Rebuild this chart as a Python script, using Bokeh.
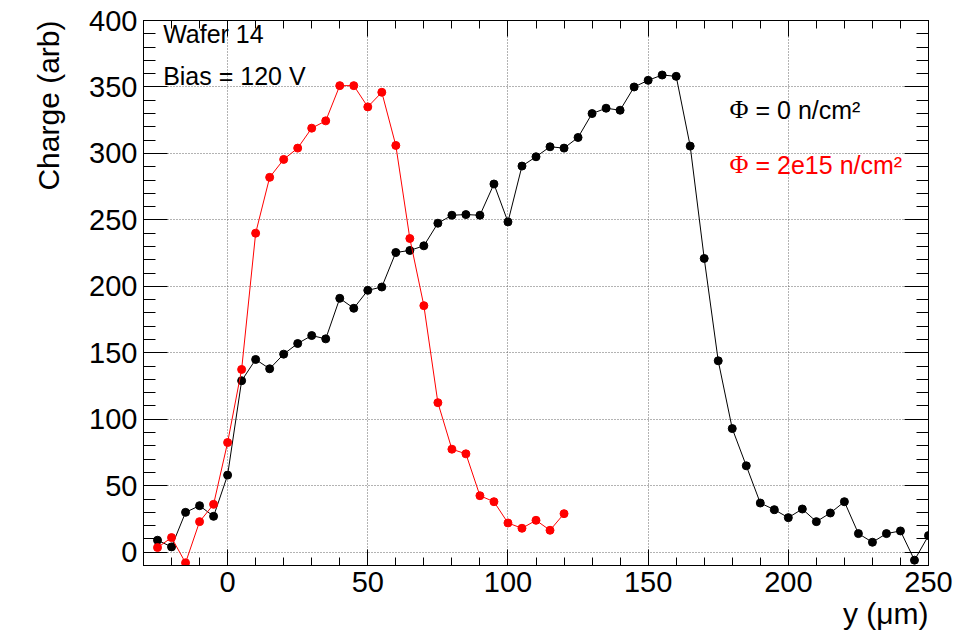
import math
from bokeh.plotting import figure
from bokeh.models import Range1d, FixedTicker, LinearAxis, Label, Title
from bokeh.embed import file_html
from bokeh.resources import INLINE

# ---- data ----
y_black = list(range(-25, 255, 5))
charge_black = [9, 4, 30, 35, 27, 58, 129, 145, 138, 149, 157, 163, 160.5,
                191, 183.5, 197, 199.5, 225.5, 227, 230.5, 247.5, 253.5, 254,
                253.5, 277, 248.5, 290.5, 297.5, 305, 304, 312, 330, 334,
                332.5, 350, 355, 359, 358, 305.5, 221, 144, 93, 65, 37, 32,
                26, 32.5, 23, 29.5, 38, 14, 7.5, 14, 16, -6, 12.5]

y_red = list(range(-25, 125, 5))
charge_red = [3.5, 11, -8, 23, 36, 82.5, 137.5, 240, 282, 295.5, 304, 319,
              324.5, 351, 351, 335, 346, 306, 236, 185.5, 112.5, 77.5, 74,
              42.5, 38, 22, 18, 24, 16.5, 29]

x_major = [0, 50, 100, 150, 200, 250]
x_minor = list(range(-30, 251, 10))
y_major = list(range(0, 401, 50))
y_minor = list(range(-10, 401, 10))

FONT = "Liberation Sans"

p = figure(width=957, height=639, x_range=Range1d(-30, 250), y_range=Range1d(-10, 400),
           output_backend="svg", toolbar_location=None,
           min_border_left=143, min_border_right=29, min_border_top=20, min_border_bottom=74,
           x_axis_location=None, y_axis_location=None)
p.background_fill_color = "white"
p.border_fill_color = "white"
p.outline_line_color = "black"
p.outline_line_width = 1

xt = FixedTicker(ticks=x_major, minor_ticks=x_minor)
yt = FixedTicker(ticks=y_major, minor_ticks=y_minor)

def style_axis(ax, tin, min_in, ticks, show_labels):
    ax.axis_line_color = "black"
    ax.major_tick_in = tin
    ax.major_tick_out = 0
    ax.minor_tick_in = min_in
    ax.minor_tick_out = 0
    ax.major_tick_line_color = "black"
    ax.minor_tick_line_color = "black"
    ax.major_label_text_font = FONT
    ax.major_label_text_color = "black"
    if show_labels:
        ax.major_label_text_font_size = "29px"
    else:
        ax.major_label_overrides = {t: "" for t in ticks}
        ax.major_label_text_font_size = "1px"
        ax.major_label_standoff = 0

bottom = LinearAxis(ticker=xt)
style_axis(bottom, 16, 8, x_major, True)
bottom.major_label_standoff = 6
p.add_layout(bottom, "below")

left = LinearAxis(ticker=yt)
style_axis(left, 24, 12, y_major, True)
left.major_label_standoff = 6
p.add_layout(left, "left")

top = LinearAxis(ticker=xt)
style_axis(top, 16, 8, x_major, False)
p.add_layout(top, "above")

right = LinearAxis(ticker=yt)
style_axis(right, 24, 12, y_major, False)
p.add_layout(right, "right")

# axis titles (right / top aligned, ROOT style)
p.add_layout(Title(text="y (\u03bcm)", align="right", text_font=FONT,
                   text_font_size="30px", text_font_style="normal",
                   text_color="black", standoff=0), "below")
p.add_layout(Title(text="Charge (arb)", align="right", text_font=FONT,
                   text_font_size="30px", text_font_style="normal",
                   text_color="black", standoff=40, vertical_align="top"), "left")

p.xgrid.ticker = xt
p.ygrid.ticker = yt
for g in (p.xgrid, p.ygrid):
    g.grid_line_color = "#666666"
    g.grid_line_dash = "1 2"
    g.grid_line_width = 1

p.line(y_black, charge_black, line_color="black", line_width=1)
p.scatter(y_black, charge_black, size=8, fill_color="black", line_color="black")
p.line(y_red, charge_red, line_color="red", line_width=1)
p.scatter(y_red, charge_red, size=8, fill_color="red", line_color="red")

# annotations
p.add_layout(Label(x=-23, y=379.5, text="Wafer 14", text_font=FONT,
                   text_font_size="25px", text_color="black"))
p.add_layout(Label(x=-23, y=347.5, text="Bias = 120 V", text_font=FONT,
                   text_font_size="25px", text_color="black"))

for yy, txt, col in [(322.5, "= 0 n/cm\u00b2", "black"), (281, "= 2e15 n/cm\u00b2", "red")]:
    p.add_layout(Label(x=179, y=yy, text="\u03a6", text_font="Liberation Serif",
                       text_font_size="26px", text_color=col))
    p.add_layout(Label(x=188.3, y=yy, text=txt, text_font=FONT,
                       text_font_size="25px", text_color=col))

open("out.html", "w").write(file_html(p, INLINE))
